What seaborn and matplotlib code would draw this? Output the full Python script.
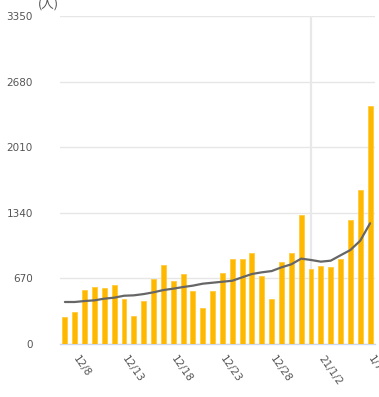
import numpy as np
import pandas as pd
import matplotlib
matplotlib.use("Agg")
import matplotlib.pyplot as plt
import matplotlib.transforms as mtransforms
import seaborn as sns

# ---- data ----
dates = ["12/7", "12/8", "12/9", "12/10", "12/11", "12/12", "12/13", "12/14",
         "12/15", "12/16", "12/17", "12/18", "12/19", "12/20", "12/21", "12/22",
         "12/23", "12/24", "12/25", "12/26", "12/27", "12/28", "12/29", "12/30",
         "12/31", "1/1", "1/2", "1/3", "1/4", "1/5", "1/6", "1/7"]
cases = [279, 330, 551, 582, 572, 605, 459, 286, 439, 663,
         809, 643, 714, 541, 368, 541, 725, 868, 868, 929,
         694, 459, 840, 932, 1317, 766, 796, 789, 868, 1266,
         1572, 2430]
avg7 = [429, 429, 439, 446, 463, 473, 493, 497, 510, 528,
        551, 565, 582, 596, 616, 626, 636, 646, 681, 715,
        732, 745, 783, 814, 872, 858, 841, 851, 906, 960,
        1055, 1233]
tick_dates = ["12/8", "12/13", "12/18", "12/23", "12/28", "1/2", "1/7"]
tick_labels = ["12/8", "12/13", "12/18", "12/23", "12/28", "21/1/2", "1/7"]
y_ticks = [0, 670, 1340, 2010, 2680, 3350]
marker_date = "1/1"
unit_label = "(人)"

df = pd.DataFrame({"date": dates, "cases": cases, "avg": avg7})
df["pos"] = np.arange(len(df))

sns.set_theme(style="white")
plt.rcParams["font.family"] = ["DejaVu Sans", "Noto Sans CJK JP"]

W, H = 379, 397
fig = plt.figure(figsize=(W / 100, H / 100), dpi=100)
ax = fig.add_axes([60 / W, (H - 344) / H, 315 / W, 328 / H])

bar_color = "#FFB800"
sns.barplot(data=df, x="date", y="cases", color=bar_color, width=0.5,
            saturation=1, edgecolor="#FFCB3D", linewidth=0.6, ax=ax, zorder=3)
sns.lineplot(data=df, x="pos", y="avg", color="#666666", linewidth=1.6,
             ax=ax, zorder=4)

ax.set_xlim(-0.5, len(df) - 0.5)
ax.set_ylim(0, y_ticks[-1])
ax.set_yticks(y_ticks)
ax.set_yticklabels([str(v) for v in y_ticks])
ax.yaxis.grid(True, color="#e6e6e6", linewidth=1.0, zorder=0)
ax.set_axisbelow(True)

# vertical marker line at year boundary
mpos = dates.index(marker_date)
ax.axvline(mpos, color="#e8e8e8", linewidth=1.6, zorder=1)

tpos = [dates.index(d) for d in tick_dates]
ax.set_xticks(tpos)
ax.set_xticklabels(tick_labels)
offset = mtransforms.ScaledTranslation(-4 / 100, 0, fig.dpi_scale_trans)
for lab in ax.get_xticklabels():
    lab.set_rotation(-55)
    lab.set_ha("left")
    lab.set_va("center")
    lab.set_rotation_mode("anchor")
    lab.set_transform(lab.get_transform() + offset)

ax.tick_params(axis="x", length=0, pad=9, labelsize=7.5, labelcolor="#555555")
ax.tick_params(axis="y", length=0, pad=19.5, labelsize=7.5, labelcolor="#555555")
ax.set_xlabel("")
ax.set_ylabel("")

for s in ["top", "right", "left"]:
    ax.spines[s].set_visible(False)
ax.spines["bottom"].set_color("#ccd6eb")
ax.spines["bottom"].set_linewidth(1.0)

fig.text(48 / W, (H - 8) / H, unit_label, ha="center", va="baseline",
         fontsize=9, color="#555555", family=["Noto Sans CJK JP", "DejaVu Sans"])

fig.savefig("out.png", dpi=100)
